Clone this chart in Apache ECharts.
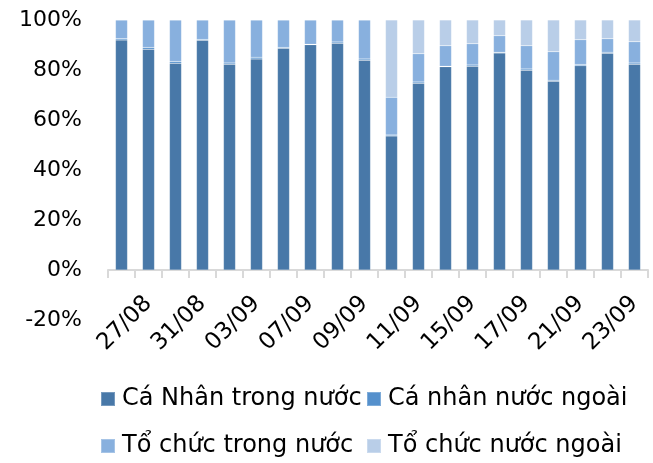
<!DOCTYPE html>
<html>
<head>
<meta charset="utf-8">
<script src="https://cdn.jsdelivr.net/npm/echarts@6/dist/echarts.min.js"></script>
<style>html,body{margin:0;padding:0;background:#fff;}#c{width:653px;height:463px;}</style>
</head>
<body>
<div id="c"></div>
<script>
const categories = ['26/08','27/08','28/08','31/08','01/09','03/09','04/09','07/09','08/09','09/09',
  '10/09','11/09','14/09','15/09','16/09','17/09','18/09','21/09','22/09','23/09'];
const caNhanTrongNuoc = [92.0, 88.3, 82.7, 91.9, 82.3, 84.4, 88.7, 90.1, 90.7, 83.9,
  53.6, 74.7, 81.3, 81.5, 86.8, 79.9, 75.5, 81.7, 86.7, 82.3];
const caNhanNuocNgoai = [0.5, 0.7, 0.7, 0.3, 0.5, 0.7, 0.3, 0.2, 0.5, 0.5,
  0.4, 0.5, 0.2, 0.5, 0.3, 0.5, 0.4, 0.5, 0.4, 0.5];
const toChucTrongNuoc = [7.5, 11.0, 16.6, 7.8, 17.2, 14.9, 11.0, 9.7, 8.8, 15.6,
  15.1, 11.3, 8.2, 8.5, 6.6, 9.3, 11.4, 9.9, 5.4, 8.5];
const toChucNuocNgoai = [0.0, 0.0, 0.0, 0.0, 0.0, 0.0, 0.0, 0.0, 0.0, 0.0,
  30.9, 13.5, 10.3, 9.5, 6.3, 10.3, 12.7, 7.9, 7.5, 8.7];
const seriesNames = ['Cá Nhân trong nước', 'Cá nhân nước ngoài', 'Tổ chức trong nước', 'Tổ chức nước ngoài'];
const colors = ['#4878A8', '#5590CC', '#88B0DE', '#B9CEE8'];

const FONT = "'DejaVu Sans', Verdana, sans-serif";
const chart = echarts.init(document.getElementById('c'));
const dataSets = [caNhanTrongNuoc, caNhanNuocNgoai, toChucTrongNuoc, toChucNuocNgoai];

function legend(name, left, top) {
  return {
    data: [name], left: left, top: top, icon: 'rect', itemWidth: 14, itemHeight: 14,
    padding: 0, selectedMode: false,
    textStyle: { fontFamily: FONT, fontSize: 24, color: '#000', padding: [0, 0, 0, 2] }
  };
}

chart.setOption({
  animation: false,
  color: colors,
  textStyle: { fontFamily: FONT },
  grid: { left: 108, right: 5, top: 20, bottom: 143, containLabel: false },
  legend: [
    legend(seriesNames[0], 100, 387),
    legend(seriesNames[1], 366, 387),
    legend(seriesNames[2], 100, 434),
    legend(seriesNames[3], 366, 434)
  ],
  xAxis: {
    type: 'category', data: categories,
    axisLine: { onZero: true, lineStyle: { color: '#D9D9D9', width: 2 } },
    axisTick: { show: true, interval: 0, length: 8, lineStyle: { color: '#D9D9D9', width: 2 } },
    axisLabel: {
      interval: function (idx) { return idx % 2 === 1; },
      rotate: 45, margin: -20, fontSize: 23, color: '#000', fontFamily: FONT
    }
  },
  yAxis: {
    type: 'value', min: -20, max: 100, interval: 20,
    axisLine: { show: false }, axisTick: { show: false }, splitLine: { show: false },
    axisLabel: { formatter: '{value}%', fontSize: 22, color: '#000', margin: 26, fontFamily: FONT }
  },
  series: dataSets.map((d, i) => ({
    name: seriesNames[i], type: 'bar', stack: 'total', data: d, barWidth: 12,
    itemStyle: { color: colors[i], borderColor: 'rgba(255,255,255,0.25)', borderWidth: 0.5 }
  }))
});
</script>
</body>
</html>
